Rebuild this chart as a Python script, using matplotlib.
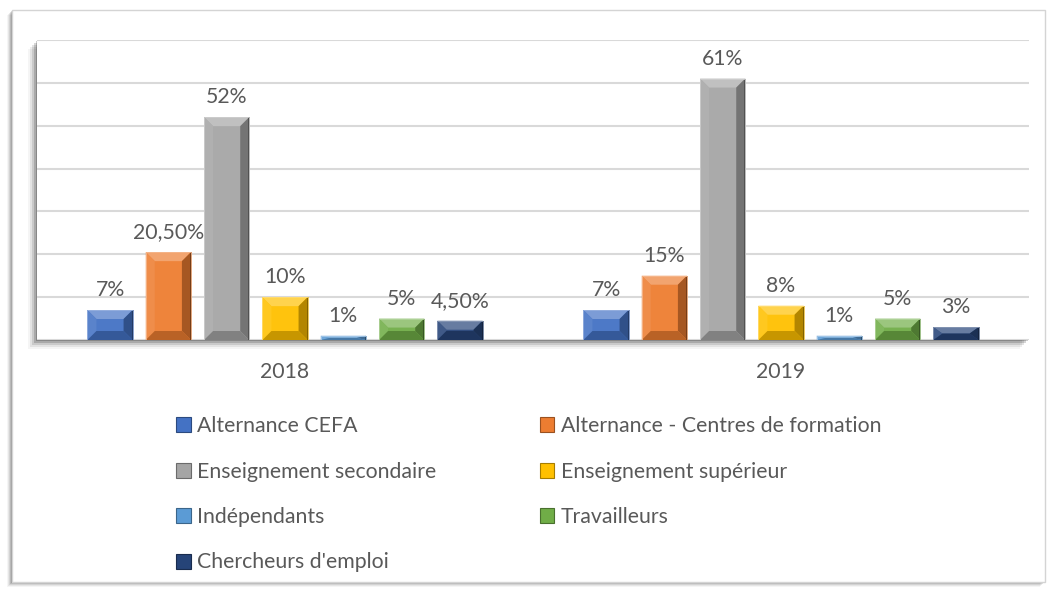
"""Répartition par statut (2018 / 2019) : barres groupées avec effet biseauté."""

import matplotlib
matplotlib.use("Agg")
import matplotlib.pyplot as plt
import numpy as np
from matplotlib.colors import to_rgb
from matplotlib.patches import Polygon, Patch, Rectangle

plt.rcParams["font.family"] = ["Lato", "DejaVu Sans"]

# --------------------------------------------------------------------------
# Données
# --------------------------------------------------------------------------
years = ["2018", "2019"]
series = [
    "Alternance CEFA",
    "Alternance - Centres de formation",
    "Enseignement secondaire",
    "Enseignement supérieur",
    "Indépendants",
    "Travailleurs",
    "Chercheurs d'emploi",
]
values_2018 = [7, 20.5, 52, 10, 1, 5, 4.5]
values_2019 = [7, 15, 61, 8, 1, 5, 3]
labels_2018 = ["7%", "20,50%", "52%", "10%", "1%", "5%", "4,50%"]
labels_2019 = ["7%", "15%", "61%", "8%", "1%", "5%", "3%"]
colors = ["#4472C4", "#ED7D31", "#A5A5A5", "#FFC000", "#5B9BD5", "#70AD47", "#264478"]

TEXT = "#595959"
W, H = 1049, 592
FS = 15.3


def mix(c, other, t):
    c = np.array(to_rgb(c))
    return tuple(c * (1 - t) + np.array(other) * t)


def px_rect(fig, left, top, right, bottom, **kw):
    """Rectangle en pixels (origine en haut à gauche)."""
    r = Rectangle((left / W, 1 - bottom / H), (right - left) / W, (bottom - top) / H,
                  transform=fig.transFigure, **kw)
    fig.add_artist(r)
    return r


def shadow(fig, left, top, right, bottom, steps, z):
    # ombre portée vers le bas/gauche
    for k, a in steps:
        px_rect(fig, left - k, top + k, right - k, bottom + k,
                facecolor=(0, 0, 0, a), edgecolor="none", zorder=z)


def bevel_bar(ax, x, w, h, color, px_x, px_y, depth=9):
    """Barre avec un biseau (haut clair, droite/bas foncés)."""
    dx = depth / px_x
    dy = min(depth / px_y, h / 2)
    x0, x1 = x - w / 2, x + w / 2
    ax.add_patch(Rectangle((x0, 0), w, h, facecolor=mix(color, (1, 1, 1), 0.05),
                           edgecolor="none", zorder=3))
    white, black = (1, 1, 1), (0, 0, 0)
    faces = [
        ([(x0, h), (x1, h), (x1 - dx, h - dy), (x0 + dx, h - dy)], mix(color, white, 0.3)),
        ([(x0, 0), (x0, h), (x0 + dx, h - dy), (x0 + dx, dy)], mix(color, white, 0.12)),
        ([(x1, 0), (x1, h), (x1 - dx, h - dy), (x1 - dx, dy)], mix(color, black, 0.3)),
        ([(x0, 0), (x1, 0), (x1 - dx, dy), (x0 + dx, dy)], mix(color, black, 0.22)),
    ]
    for pts, fc in faces:
        ax.add_patch(Polygon(pts, closed=True, facecolor=fc, edgecolor="none", zorder=3))
    # arête droite sombre
    ax.plot([x1, x1], [0, h], color=mix(color, black, 0.55), linewidth=1.2, zorder=4,
            solid_capstyle="butt")
    ax.add_patch(Rectangle((x0, 0), w, h, facecolor="none",
                           edgecolor=mix(color, white, 0.45), linewidth=0.6, zorder=4))


fig = plt.figure(figsize=(W / 100, H / 100), dpi=100)

# cadre extérieur avec ombre
shadow(fig, 12, 10, 1045, 582, [(5, 0.04), (4, 0.06), (3, 0.08), (2, 0.12), (1, 0.15)], 0)
px_rect(fig, 12, 10, 1045, 582, facecolor="white", edgecolor="#D4D4D4", linewidth=1.0, zorder=0.2)

ax_left, ax_right, ax_top, ax_bot = 37, 1029, 40, 340
# ombre de la zone de tracé
shadow(fig, ax_left, ax_top, ax_right, ax_bot,
       [(9, 0.04), (7, 0.07), (5, 0.11), (3, 0.16), (1, 0.2)], 0.4)
px_rect(fig, ax_left, ax_top, ax_right, ax_bot, facecolor="white", edgecolor="none", zorder=0.5)

ax = fig.add_axes([ax_left / W, 1 - ax_bot / H, (ax_right - ax_left) / W, (ax_bot - ax_top) / H])
ax.set_zorder(1)
ax.patch.set_visible(False)

ax.set_xlim(-0.5, 1.5)
ax.set_ylim(0, 70)
px_x = (ax_right - ax_left) / 2.0
px_y = (ax_bot - ax_top) / 70.0

slot, bar_w = 0.1176, 0.091
x = np.arange(len(years))
for j, (v18, v19) in enumerate(zip(values_2018, values_2019)):
    for xi, v, lab in [(x[0], v18, labels_2018[j]), (x[1], v19, labels_2019[j])]:
        xc = xi + (j - 3) * slot
        bevel_bar(ax, xc, bar_w, v, colors[j], px_x, px_y)
        ax.annotate(lab, (xc, v), xytext=(0, 7), textcoords="offset points",
                    ha="center", va="bottom", fontsize=FS, color=TEXT)

ax.set_yticks(np.arange(0, 71, 10))
ax.yaxis.grid(True, color="#D9D9D9", linewidth=1.5)
ax.set_axisbelow(True)
ax.tick_params(axis="y", left=False, labelleft=False)
ax.set_xticks(x)
ax.set_xticklabels(years, fontsize=FS, color=TEXT)
ax.tick_params(axis="x", length=0, pad=16)
for s in ["top", "right", "left", "bottom"]:
    ax.spines[s].set_visible(False)

# légende (ordre par lignes : 2 colonnes)
handles = [Patch(facecolor=c, edgecolor=mix(c, (0, 0, 0), 0.35), linewidth=0.8) for c in colors]
order = [0, 2, 4, 6, 1, 3, 5]
fig.legend([handles[i] for i in order], [series[i] for i in order],
           loc="upper left", bbox_to_anchor=(176 / W, 1 - 416 / H), ncol=2,
           frameon=False, fontsize=FS, labelcolor=TEXT, borderpad=0, borderaxespad=0,
           handlelength=0.7, handleheight=0.7, handletextpad=0.3,
           labelspacing=1.2, columnspacing=4.85)

fig.savefig("out.png", dpi=100)
